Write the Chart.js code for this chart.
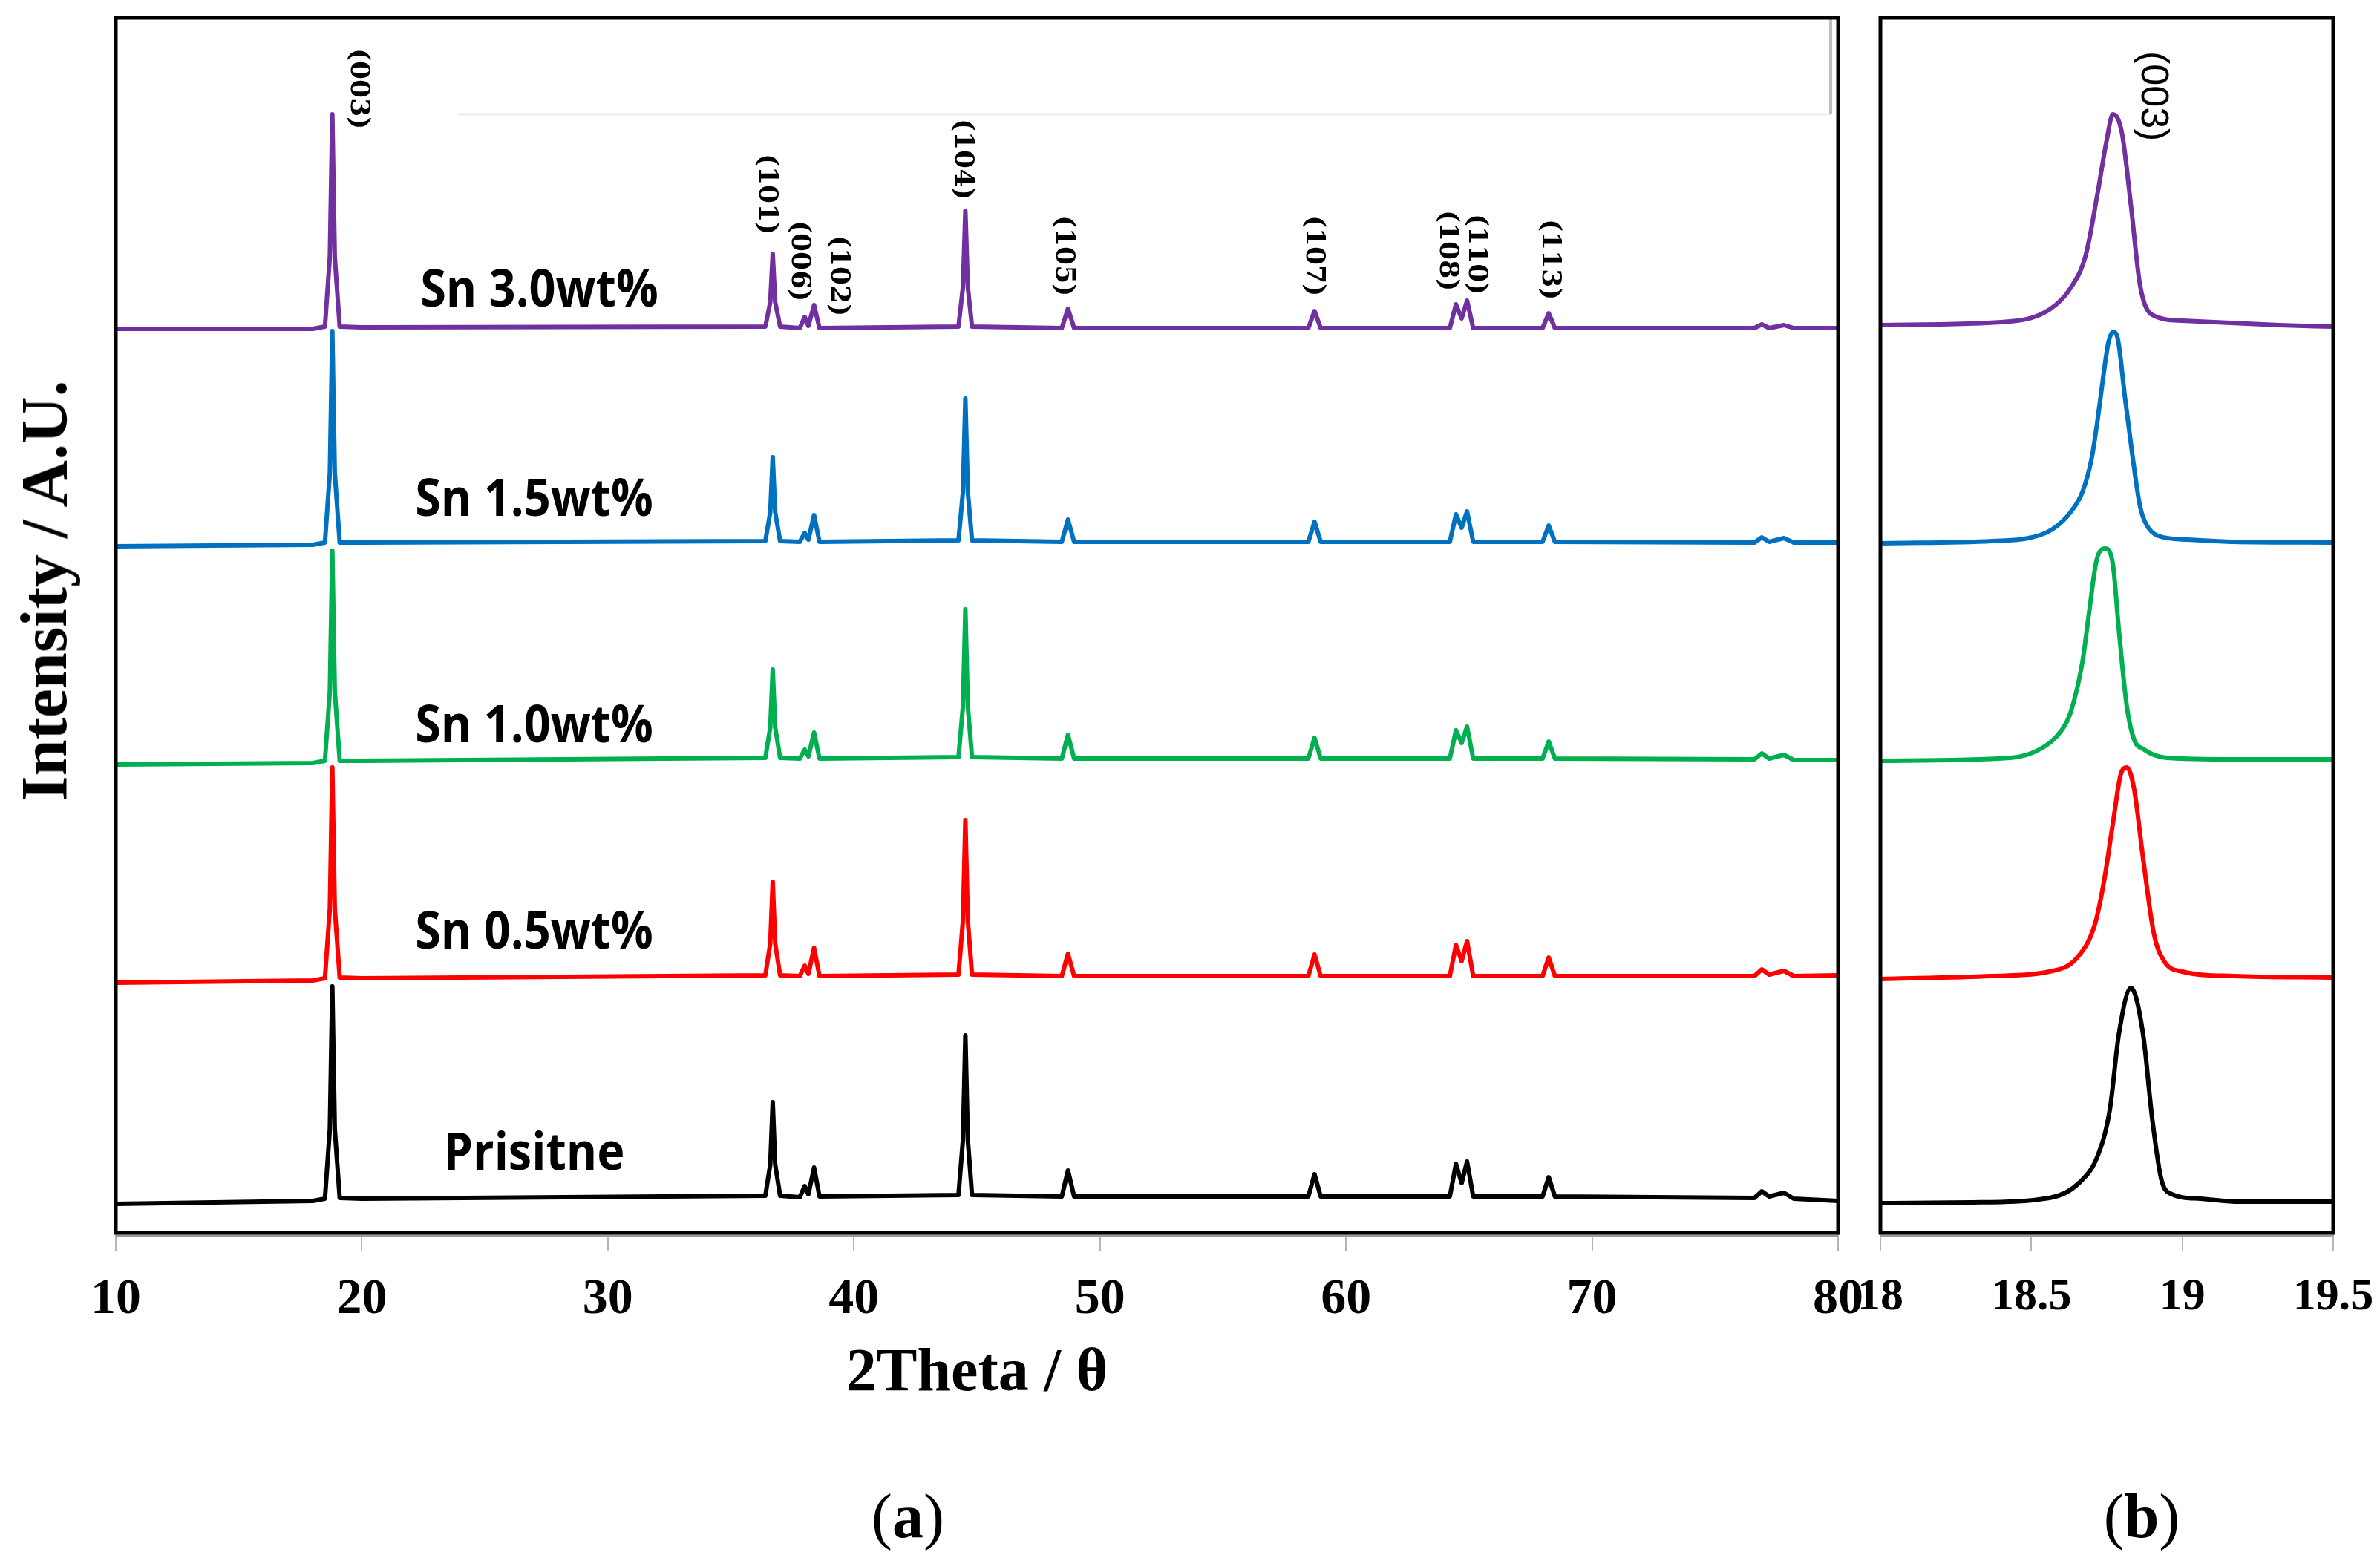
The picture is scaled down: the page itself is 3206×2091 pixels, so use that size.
<!DOCTYPE html>
<html>
<head>
<meta charset="utf-8">
<title>XRD patterns, Sn doped samples</title>
<script src="https://cdn.jsdelivr.net/npm/chart.js@4.4.1/dist/chart.umd.min.js"></script>
<style>
  html, body { margin: 0; padding: 0; background: #fff; }
  #page { position: relative; width: 3206px; height: 2091px; overflow: hidden; }
  .box { position: absolute; top: 0; height: 1830px; }
  #wide-box { left: 0; width: 2540px; }
  #zoom-box { left: 2400px; width: 880px; }
  .title {
    position: absolute;
    font-family: "Liberation Serif", "Times New Roman", serif;
    font-weight: bold;
    color: #000;
    white-space: nowrap;
    line-height: 1;
  }
  #x-title { left: 1316px; top: 1846px; font-size: 82px; transform: translate(-50%, -50%); }
  #y-title { left: 60px; top: 796px; font-size: 88px; transform: translate(-50%, -50%) rotate(-90deg); }
  .panel { font-weight: normal; font-size: 84px; top: 2043px; transform: translate(-50%, -50%); }
  .panel b { font-weight: bold; }
</style>
</head>
<body>
<div id="page">
  <div class="box" id="wide-box"><canvas id="wide-chart"></canvas></div>
  <div class="box" id="zoom-box"><canvas id="zoom-chart"></canvas></div>
  <div class="title" id="x-title">2Theta / θ</div>
  <div class="title" id="y-title">Intensity / A.U.</div>
  <div class="title panel" style="left:1223px">(<b>a</b>)</div>
  <div class="title panel" style="left:2885px">(<b>b</b>)</div>
</div>
<script>
// ---- full scan, 10-80 deg (stacked, arbitrary units) ----
const twoTheta = [
  10, 18.0, 18.5, 18.7, 18.8, 18.9, 19.1, 20,
  36.4, 36.6, 36.7, 36.8, 37.0,
  37.8, 38.0, 38.15, 38.38, 38.6,
  44.25, 44.43, 44.53, 44.63, 44.8,
  48.45, 48.7, 48.95,
  58.47, 58.72, 58.97,
  64.22, 64.47, 64.7, 64.92, 65.17,
  67.99, 68.24, 68.49,
  76.6, 76.9, 77.2, 77.8, 78.2, 80
];

const pristine = [
  39, 43, 46, 140, 332, 140, 47, 46,
  50, 92, 176, 92, 50,
  48, 63, 52, 88, 49,
  51, 125, 266, 125, 51,
  49, 84, 49,
  49, 79, 49,
  49, 93, 67, 96, 49,
  49, 75, 49,
  47, 56, 49, 54, 46, 43
];

const sn05 = [
  337, 340, 343, 437, 627, 437, 344, 343,
  347, 390, 473, 390, 347,
  346, 360, 349, 384, 346,
  348, 420, 556, 420, 348,
  346, 376, 346,
  346, 375, 346,
  346, 388, 366, 393, 346,
  346, 371, 346,
  346, 355, 348, 353, 346, 347
];

const sn10 = [
  631, 633, 636, 730, 919, 730, 636, 636,
  640, 681, 759, 681, 640,
  639, 651, 642, 674, 639,
  641, 709, 840, 709, 641,
  639, 671, 639,
  639, 667, 639,
  639, 677, 660, 682, 639,
  639, 662, 639,
  638, 646, 639, 644, 637, 637
];

const sn15 = [
  925, 927, 930, 1024, 1215, 1024, 930, 930,
  932, 971, 1045, 971, 932,
  931, 943, 934, 967, 931,
  933, 998, 1124, 998, 933,
  931, 961, 931,
  931, 958, 931,
  931, 968, 950, 972, 931,
  931, 953, 931,
  930, 937, 931, 936, 930, 930
];

const sn30 = [
  1218, 1218, 1221, 1315, 1507, 1315, 1221, 1220,
  1221, 1254, 1319, 1254, 1221,
  1219, 1234, 1222, 1250, 1219,
  1221, 1274, 1377, 1274, 1221,
  1219, 1245, 1219,
  1219, 1242, 1219,
  1219, 1251, 1232, 1256, 1219,
  1219, 1239, 1219,
  1219, 1224, 1219, 1223, 1219, 1219
];

// ---- (003) close-up, 18-19.5 deg ----
const zoomPristineTheta = [18.0, 18.3, 18.56, 18.66, 18.72, 18.76, 18.79, 18.83, 18.87, 18.90, 18.93, 18.96, 19.06, 19.19, 19.5];
const zoomPristine = [40, 41, 47, 68, 104, 166, 268, 330, 268, 155, 73, 53, 46, 42, 42];

const zoomSn05Theta = [18.0, 18.37, 18.56, 18.65, 18.71, 18.74, 18.771, 18.797, 18.816, 18.84, 18.87, 18.906, 18.94, 19.0, 19.17, 19.5];
const zoomSn05 = [342, 346, 352, 370, 415, 472, 554, 619, 627, 599, 505, 403, 366, 352, 346, 344];

const zoomSn10Theta = [18.0, 18.43, 18.53, 18.60, 18.63, 18.67, 18.69, 18.716, 18.745, 18.77, 18.79, 18.816, 18.84, 18.87, 18.95, 19.17, 19.5];
const zoomSn10 = [636, 640, 652, 677, 701, 771, 832, 906, 922, 901, 812, 710, 665, 652, 640, 638, 638];

const zoomSn15Theta = [18.0, 18.37, 18.49, 18.57, 18.63, 18.67, 18.70, 18.72, 18.74, 18.755, 18.771, 18.787, 18.81, 18.836, 18.86, 18.88, 18.92, 19.02, 19.17, 19.5];
const zoomSn15 = [929, 932, 936, 948, 971, 999, 1044, 1097, 1159, 1199, 1214, 1203, 1126, 1044, 979, 955, 939, 934, 931, 930];

const zoomSn30Theta = [18.0, 18.43, 18.56, 18.63, 18.68, 18.72, 18.75, 18.77, 18.80, 18.83, 18.86, 18.90, 19.0, 19.32, 19.5];
const zoomSn30 = [1223, 1228, 1244, 1273, 1317, 1402, 1473, 1507, 1482, 1384, 1277, 1237, 1229, 1223, 1221];

// ---- text labels ----
const sampleNames = ["Sn 3.0wt%", "Sn 1.5wt%", "Sn 1.0wt%", "Sn 0.5wt%", "Prisitne"];
const peakNames = ["(003)", "(101)", "(006)", "(102)", "(104)", "(105)", "(107)", "(108)", "(110)", "(113)"];
const wideTicks = [10, 20, 30, 40, 50, 60, 70, 80];
const zoomTicks = [18, 18.5, 19, 19.5];

// where the labels sit (axis units), kept apart from the data
const sampleLabelX = [27.21, 27.0, 27.0, 27.0, 27.0];
const sampleLabelY = [1248, 966, 661, 383, 85];
const peakLabelX = [19.84, 36.43, 37.76, 39.36, 44.40, 48.50, 58.67, 64.10, 65.28, 68.27];
const peakLabelTop = [1596, 1454, 1364, 1344, 1501, 1371, 1371, 1378, 1373, 1366];

const colors = {
  sn30: "#7030A0",
  sn15: "#0070C0",
  sn10: "#00B050",
  sn05: "#FF0000",
  pristine: "#000000"
};

const Y_MAX = 1637;

function toPoints(xs, ys) {
  return xs.map((x, i) => ({ x, y: ys[i] }));
}

function makeDataset(label, xs, ys, color, width, smooth) {
  return {
    label,
    data: toPoints(xs, ys),
    borderColor: color,
    borderWidth: width,
    pointRadius: 0,
    fill: false,
    tension: 0,
    cubicInterpolationMode: smooth ? "monotone" : "default",
    borderJoinStyle: "round"
  };
}

// box round the plot area, drawn over the traces
const framePlugin = {
  id: "frame",
  afterDraw(chart) {
    const { ctx, chartArea: a } = chart;
    ctx.save();
    ctx.strokeStyle = "#9a9a9a";
    ctx.lineWidth = 3;
    ctx.beginPath();
    ctx.moveTo(a.left, a.bottom + 4);
    ctx.lineTo(a.right, a.bottom + 4);
    ctx.stroke();
    ctx.strokeStyle = "#000";
    ctx.lineWidth = 5;
    ctx.strokeRect(a.left, a.top, a.right - a.left, a.bottom - a.top);
    ctx.restore();
  }
};

// faint leftover legend border seen in the original figure
const ghostBoxPlugin = {
  id: "ghostBox",
  beforeDatasetsDraw(chart, args, opts) {
    if (!opts.show) return;
    const { ctx, scales } = chart;
    const x0 = scales.x.getPixelForValue(23.9);
    const x1 = scales.x.getPixelForValue(79.7);
    const y1 = scales.y.getPixelForValue(1507);
    ctx.save();
    ctx.strokeStyle = "#ececec";
    ctx.lineWidth = 3;
    ctx.beginPath();
    ctx.moveTo(x0, y1);
    ctx.lineTo(x1, y1);
    ctx.stroke();
    ctx.strokeStyle = "#bdbdbd";
    ctx.lineWidth = 4;
    ctx.beginPath();
    ctx.moveTo(x1, chart.chartArea.top);
    ctx.lineTo(x1, y1);
    ctx.stroke();
    ctx.restore();
  }
};

// sample names and Miller indices
const textPlugin = {
  id: "texts",
  afterDatasetsDraw(chart, args, opts) {
    const { ctx, scales } = chart;
    ctx.save();
    ctx.fillStyle = "#000";
    (opts.samples || []).forEach((s) => {
      const px = scales.x.getPixelForValue(s.x);
      const py = scales.y.getPixelForValue(s.y);
      ctx.save();
      ctx.translate(px, py);
      ctx.scale(0.9, 1);
      ctx.font = "bold 70px 'Open Sans', 'Noto Sans', sans-serif";
      ctx.textAlign = "center";
      ctx.textBaseline = "alphabetic";
      ctx.fillText(s.text, 0, 0);
      ctx.restore();
    });
    (opts.peaks || []).forEach((p) => {
      const px = scales.x.getPixelForValue(p.x);
      const py = scales.y.getPixelForValue(p.top);
      ctx.save();
      ctx.translate(px, py);
      ctx.rotate(Math.PI / 2);
      ctx.font = opts.peakFont;
      ctx.textAlign = "left";
      ctx.textBaseline = "middle";
      ctx.fillText(p.text, 0, 0);
      ctx.restore();
    });
    ctx.restore();
  }
};

function xScale(min, max, ticks, fontSize) {
  return {
    type: "linear",
    min,
    max,
    afterBuildTicks: (scale) => {
      scale.ticks = ticks.map((v) => ({ value: v }));
    },
    border: { display: false },
    grid: {
      drawOnChartArea: false,
      drawTicks: true,
      tickLength: 24,
      color: "#b5b5b5",
      lineWidth: 2
    },
    ticks: {
      autoSkip: false,
      maxRotation: 0,
      padding: 26,
      color: "#000",
      callback: (value) => String(value),
      font: { family: "'Liberation Serif', 'Times New Roman', serif", weight: "bold", size: fontSize }
    },
    afterFit: (scale) => {
      scale.height = 130;
    }
  };
}

const commonPlugins = {
  legend: { display: false },
  tooltip: { enabled: false }
};

new Chart(document.getElementById("wide-chart"), {
  type: "line",
  data: {
    datasets: [
      makeDataset(sampleNames[4], twoTheta, pristine, colors.pristine, 6, false),
      makeDataset(sampleNames[3], twoTheta, sn05, colors.sn05, 6, false),
      makeDataset(sampleNames[2], twoTheta, sn10, colors.sn10, 6, false),
      makeDataset(sampleNames[1], twoTheta, sn15, colors.sn15, 6, false),
      makeDataset(sampleNames[0], twoTheta, sn30, colors.sn30, 6, false)
    ]
  },
  options: {
    responsive: true,
    maintainAspectRatio: false,
    animation: false,
    devicePixelRatio: 1,
    layout: { padding: { left: 156, top: 24, right: 64, bottom: 39 } },
    scales: {
      x: xScale(10, 80, wideTicks, 68),
      y: { display: false, min: 0, max: Y_MAX }
    },
    plugins: {
      ...commonPlugins,
      ghostBox: { show: true },
      texts: {
        samples: sampleNames.map((text, i) => ({ text, x: sampleLabelX[i], y: sampleLabelY[i] })),
        peaks: peakNames.map((text, i) => ({ text, x: peakLabelX[i], top: peakLabelTop[i] })),
        peakFont: "bold 36px 'DejaVu Serif', serif"
      }
    }
  },
  plugins: [ghostBoxPlugin, textPlugin, framePlugin]
});

new Chart(document.getElementById("zoom-chart"), {
  type: "line",
  data: {
    datasets: [
      makeDataset(sampleNames[4], zoomPristineTheta, zoomPristine, colors.pristine, 6, true),
      makeDataset(sampleNames[3], zoomSn05Theta, zoomSn05, colors.sn05, 6, true),
      makeDataset(sampleNames[2], zoomSn10Theta, zoomSn10, colors.sn10, 6, true),
      makeDataset(sampleNames[1], zoomSn15Theta, zoomSn15, colors.sn15, 6, true),
      makeDataset(sampleNames[0], zoomSn30Theta, zoomSn30, colors.sn30, 6, true)
    ]
  },
  options: {
    responsive: true,
    maintainAspectRatio: false,
    animation: false,
    devicePixelRatio: 1,
    layout: { padding: { left: 133, top: 24, right: 137, bottom: 39 } },
    scales: {
      x: xScale(18, 19.5, zoomTicks, 62),
      y: { display: false, min: 0, max: Y_MAX }
    },
    plugins: {
      ...commonPlugins,
      ghostBox: { show: false },
      texts: {
        samples: [],
        peaks: [{ text: peakNames[0], x: 18.9, top: 1592 }],
        peakFont: "52px 'Liberation Sans', Arial, sans-serif"
      }
    }
  },
  plugins: [ghostBoxPlugin, textPlugin, framePlugin]
});
</script>
</body>
</html>
